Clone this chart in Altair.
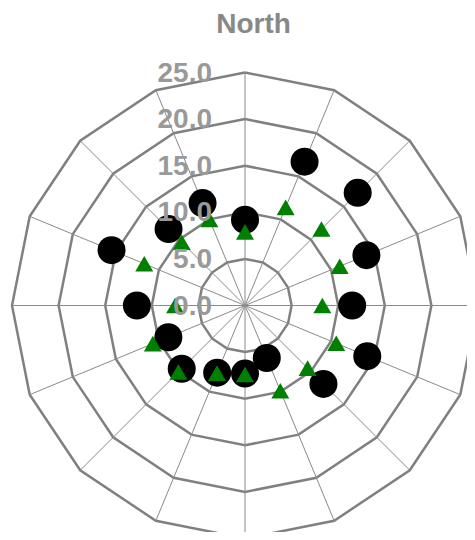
import altair as alt
import pandas as pd

directions = ["N", "NNE", "NE", "ENE", "E", "ESE", "SE", "SSE",
              "S", "SSW", "SW", "WSW", "W", "WNW", "NW", "NNW"]
circle_values = [9.2, 16.7, 17.1, 14.1, 11.5, 14.2, 11.9, 6.1,
                 7.3, 7.8, 9.6, 8.9, 11.6, 15.5, 11.6, 11.9]
triangle_values = [7.9, 11.4, 11.6, 11.0, 8.3, 10.6, 9.5, 9.9,
                   7.4, 7.85, 10.1, 10.7, 7.5, 11.7, 9.6, 10.0]
ring_values = [5, 10, 15, 20, 25]
tick_values = [0, 5, 10, 15, 20, 25]
tick_labels = ["0.0", "5.0", "10.0", "15.0", "20.0", "25.0"]
r_max = 25

# tables built from the arrays
points = pd.DataFrame({
    "direction": directions * 2,
    "idx": list(range(len(directions))) * 2,
    "value": circle_values + triangle_values,
    "series": ["circle"] * len(directions) + ["triangle"] * len(directions),
})
rings = pd.DataFrame([
    {"ring": r, "idx": i, "value": r}
    for r in ring_values for i in range(len(directions) + 1)
])
spokes = pd.DataFrame({"idx": list(range(len(directions))),
                       "value": [r_max] * len(directions)})
ticks = pd.DataFrame({"tick": tick_values, "label": tick_labels})

n = len(directions)
calc_x = f"datum.value * sin(datum.idx * 2 * PI / {n})"
calc_y = f"datum.value * cos(datum.idx * 2 * PI / {n})"

PAD_TOP = 45
W, H = 459, 524 - PAD_TOP
px_per_unit = 9.32
cx, cy = 237, 305.5 - 8 - PAD_TOP  # centre inside the plot area (pixels)
xs = alt.Scale(domain=[-cx / px_per_unit, (W - cx) / px_per_unit], nice=False, zero=False)
ys = alt.Scale(domain=[-(H - cy) / px_per_unit, cy / px_per_unit], nice=False, zero=False)

ring_layer = alt.Chart(rings).transform_calculate(
    px=calc_x, py=calc_y
).mark_line(color="#808080", strokeWidth=2.5).encode(
    x=alt.X("px:Q", scale=xs, axis=None),
    y=alt.Y("py:Q", scale=ys, axis=None),
    detail="ring:N",
    order="idx:Q",
)

spoke_layer = alt.Chart(spokes).transform_calculate(
    px=calc_x, py=calc_y, zero="0"
).mark_rule(color="#8a8a8a", strokeWidth=1).encode(
    x=alt.X("zero:Q", scale=xs, axis=None),
    y=alt.Y("zero:Q", scale=ys, axis=None),
    x2="px:Q",
    y2="py:Q",
)

circle_layer = alt.Chart(points).transform_filter(
    "datum.series == 'circle'"
).transform_calculate(
    px=calc_x, py=calc_y
).mark_point(shape="circle", filled=True, color="black", size=784, opacity=1).encode(
    x=alt.X("px:Q", scale=xs, axis=None),
    y=alt.Y("py:Q", scale=ys, axis=None),
)

triangle_layer = alt.Chart(points).transform_filter(
    "datum.series == 'triangle'"
).transform_calculate(
    px=calc_x, py=calc_y
).mark_point(shape="triangle-up", filled=True, color="#008000", size=324, opacity=1).encode(
    x=alt.X("px:Q", scale=xs, axis=None),
    y=alt.Y("py:Q", scale=ys, axis=None),
)

label_layer = alt.Chart(ticks).transform_calculate(
    zero="0"
).mark_text(
    align="right", baseline="middle", dx=-33, dy=1,
    font="Liberation Sans", fontSize=28, fontWeight="bold", color="#999999",
).encode(
    x=alt.X("zero:Q", scale=xs, axis=None),
    y=alt.Y("tick:Q", scale=ys, axis=None),
    text="label:N",
)

chart = alt.layer(
    ring_layer, spoke_layer, circle_layer, triangle_layer, label_layer
).properties(
    width=W, height=H,
    title=alt.TitleParams(
        "North", font="Liberation Sans", fontSize=28, fontWeight="bold",
        color="#888888", anchor="middle", dx=16, offset=-8,
        baseline="alphabetic", frame="group",
    ),
    padding={"left": 0, "top": PAD_TOP, "right": 0, "bottom": 0},
    autosize=alt.AutoSizeParams(type="none"),
).configure_view(stroke=None)

chart.save("out.html", embed_options={"renderer": "svg", "actions": False})
